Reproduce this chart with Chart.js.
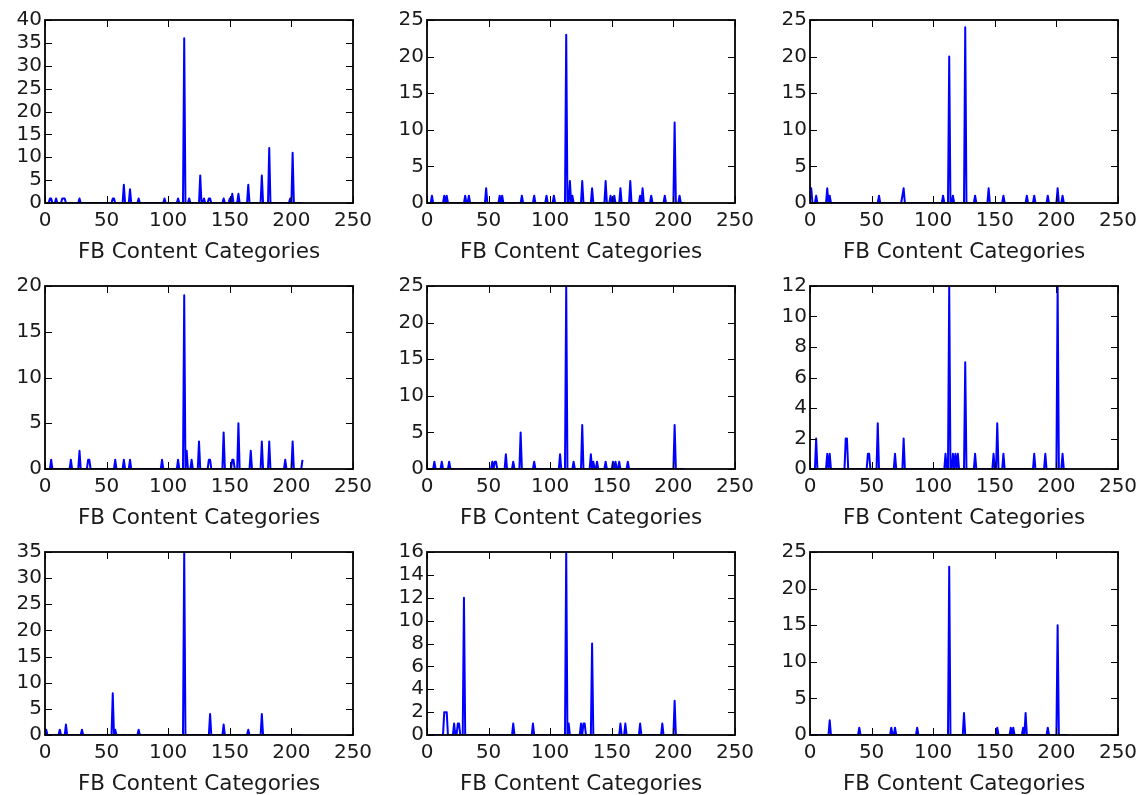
<!DOCTYPE html>
<html>
<head>
<meta charset="utf-8">
<script src="https://cdn.jsdelivr.net/npm/chart.js@4.4.0/dist/chart.umd.min.js"></script>
<style>
  html, body { margin: 0; padding: 0; background: #fff; }
  body { width: 1137px; height: 795px; position: relative; overflow: hidden; }
  canvas { position: absolute; }
</style>
</head>
<body>
<script>
// number of content categories per user (0..209)
const N_CATEGORIES = 210;
const xTickMax = 250;
const xTickStep = 50;

// spikes per panel: category index and count, everything else is 0
const cats1 = [4, 5, 9, 14, 15, 16, 28, 55, 56, 64, 69, 76, 97, 108, 113, 117, 126, 129, 133, 134, 145, 150, 152, 157, 165, 176, 182, 199, 201];
const vals1 = [1, 1, 1, 1, 1, 1, 1, 1, 1, 4, 3, 1, 1, 1, 36, 1, 6, 1, 1, 1, 1, 1, 2, 2, 4, 6, 12, 1, 11];

const cats2 = [4, 14, 16, 31, 34, 48, 59, 61, 77, 87, 97, 103, 113, 116, 118, 126, 134, 145, 149, 152, 157, 165, 173, 175, 182, 193, 201, 205];
const vals2 = [1, 1, 1, 1, 1, 2, 1, 1, 1, 1, 1, 1, 23, 3, 1, 3, 2, 3, 1, 1, 2, 3, 1, 2, 1, 1, 11, 1];

const cats3 = [0, 1, 5, 14, 16, 56, 75, 76, 108, 113, 116, 126, 134, 145, 157, 176, 182, 193, 201, 205];
const vals3 = [2, 2, 1, 2, 1, 1, 1, 2, 1, 20, 1, 24, 1, 2, 1, 1, 1, 1, 2, 1];

const cats4 = [5, 21, 28, 35, 36, 57, 64, 69, 95, 108, 113, 115, 119, 125, 133, 134, 145, 152, 153, 157, 167, 176, 182, 195, 201, 209];
const vals4 = [1, 1, 2, 1, 1, 1, 1, 1, 1, 1, 19, 2, 1, 3, 1, 1, 4, 1, 1, 5, 2, 3, 3, 1, 3, 1];

const cats5 = [6, 12, 18, 53, 55, 56, 64, 70, 76, 87, 108, 113, 119, 126, 133, 135, 138, 145, 151, 153, 156, 163, 201];
const vals5 = [1, 1, 1, 1, 1, 1, 2, 1, 5, 1, 2, 25, 1, 6, 2, 1, 1, 1, 1, 1, 1, 1, 6];

const cats6 = [5, 14, 16, 29, 30, 47, 48, 55, 69, 76, 110, 113, 116, 118, 120, 126, 134, 149, 152, 157, 182, 191, 201, 205];
const vals6 = [2, 1, 1, 2, 2, 1, 1, 3, 1, 2, 1, 12, 1, 1, 1, 7, 1, 1, 3, 1, 1, 1, 12, 1];

const cats7 = [0, 1, 12, 17, 30, 55, 57, 76, 113, 134, 145, 165, 176];
const vals7 = [1, 1, 1, 2, 1, 8, 1, 1, 35, 4, 2, 1, 4];

const cats8 = [14, 15, 16, 22, 25, 26, 30, 70, 86, 113, 115, 125, 127, 128, 134, 157, 161, 173, 191, 201];
const vals8 = [2, 2, 2, 1, 1, 1, 12, 1, 1, 16, 1, 1, 1, 1, 8, 1, 1, 1, 1, 3];

const cats9 = [16, 40, 66, 69, 87, 113, 125, 152, 163, 165, 173, 175, 193, 201];
const vals9 = [2, 1, 1, 1, 1, 23, 3, 1, 1, 1, 1, 3, 1, 15];

// y axis ranges
const yMaxes = [40, 25, 25, 20, 25, 12, 35, 16, 25];
const ySteps = [5, 5, 5, 5, 5, 2, 5, 2, 5];

const allCats = [cats1, cats2, cats3, cats4, cats5, cats6, cats7, cats8, cats9];
const allVals = [vals1, vals2, vals3, vals4, vals5, vals6, vals7, vals8, vals9];

const xTitle = 'FB Content Categories';

// grid of plot boxes
const colLeft = [45, 427, 810];
const rowTop = [20, 286, 552];
const plotW = 308;
const plotH = 183;
const Y_AXIS_W = 45;
const X_AXIS_H = 62;
const PAD_TOP = 15;
const PAD_RIGHT = 30;
const TICK_LEN = 7;
const FONT = "'DejaVu Sans', sans-serif";
const TEXT = '#1a1a1a';

function buildSeries(cats, vals) {
  const pts = [];
  for (let i = 0; i < N_CATEGORIES; i++) pts.push({ x: i, y: 0 });
  cats.forEach((c, k) => { pts[c].y = vals[k]; });
  return pts;
}

// closed frame with inward ticks on all four sides
const frameTicks = {
  id: 'frameTicks',
  afterDatasetsDraw(chart) {
    const { ctx, chartArea: a, scales: { x, y } } = chart;
    ctx.save();
    ctx.strokeStyle = '#000';
    ctx.lineWidth = 1;
    ctx.beginPath();
    x.ticks.forEach((t, i) => {
      const px = Math.round(x.getPixelForTick(i)) + 0.5;
      ctx.moveTo(px, a.bottom); ctx.lineTo(px, a.bottom - TICK_LEN);
      ctx.moveTo(px, a.top); ctx.lineTo(px, a.top + TICK_LEN);
    });
    y.ticks.forEach((t, i) => {
      const py = Math.round(y.getPixelForTick(i)) + 0.5;
      ctx.moveTo(a.left, py); ctx.lineTo(a.left + TICK_LEN, py);
      ctx.moveTo(a.right, py); ctx.lineTo(a.right - TICK_LEN, py);
    });
    ctx.stroke();
    ctx.lineWidth = 1.8;
    ctx.strokeRect(a.left, a.top, a.right - a.left, a.bottom - a.top);
    ctx.restore();
  }
};

for (let p = 0; p < 9; p++) {
  const col = p % 3, row = Math.floor(p / 3);
  const canvas = document.createElement('canvas');
  const W = plotW + Y_AXIS_W + PAD_RIGHT;
  const H = plotH + PAD_TOP + X_AXIS_H;
  canvas.width = W;
  canvas.height = H;
  canvas.style.left = (colLeft[col] - Y_AXIS_W) + 'px';
  canvas.style.top = (rowTop[row] - PAD_TOP) + 'px';
  canvas.style.width = W + 'px';
  canvas.style.height = H + 'px';
  document.body.appendChild(canvas);

  new Chart(canvas, {
    type: 'line',
    data: {
      datasets: [{
        data: buildSeries(allCats[p], allVals[p]),
        borderColor: '#0000ff',
        borderWidth: 2,
        borderJoinStyle: 'round',
        pointRadius: 0,
        tension: 0,
        fill: false
      }]
    },
    options: {
      responsive: false,
      animation: false,
      devicePixelRatio: 1,
      layout: { padding: { top: PAD_TOP, right: PAD_RIGHT, left: 0, bottom: 0 } },
      plugins: { legend: { display: false }, tooltip: { enabled: false } },
      scales: {
        x: {
          type: 'linear',
          min: 0,
          max: xTickMax,
          ticks: { stepSize: xTickStep, autoSkip: false, maxRotation: 0, padding: 6, color: TEXT, font: { family: FONT, size: 20 } },
          grid: { display: false, drawTicks: false },
          border: { display: false },
          title: { display: true, text: xTitle, color: TEXT, font: { family: FONT, size: 21.5 }, padding: { top: 0, bottom: 0 } },
          afterFit: s => { s.height = X_AXIS_H; }
        },
        y: {
          min: 0,
          max: yMaxes[p],
          ticks: { stepSize: ySteps[p], autoSkip: false, padding: 3, color: TEXT, font: { family: FONT, size: 20 } },
          grid: { display: false, drawTicks: false },
          border: { display: false },
          afterFit: s => { s.width = Y_AXIS_W; }
        }
      }
    },
    plugins: [frameTicks]
  });
}
</script>
</body>
</html>
